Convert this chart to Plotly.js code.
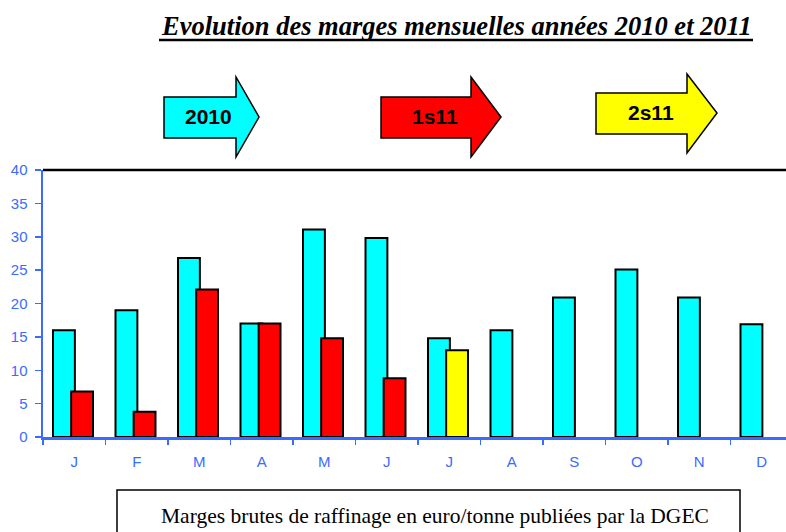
<!DOCTYPE html>
<html>
<head>
<meta charset="utf-8">
<script src="https://cdn.plot.ly/plotly-3.0.1.min.js"></script>
<style>
  html, body { margin: 0; padding: 0; background: #fff; }
  #chart { width: 786px; height: 532px; }
</style>
</head>
<body>
<div id="chart"></div>
<script>
// ---- data ----
const months = ["J1", "F", "M1", "A1", "M2", "J2", "J3", "A2", "S", "O", "N", "D"];
const monthLabels = ["J", "F", "M", "A", "M", "J", "J", "A", "S", "O", "N", "D"];
const values2010 = [16, 19, 26.8, 17, 31.1, 29.8, 14.8, 16, 20.9, 25.1, 20.9, 16.9];
const months2011 = ["J1", "F", "M1", "A1", "M2", "J2", "J3"];
const values2011 = [6.8, 3.8, 22.1, 17, 14.8, 8.8, 13];
const colors2011 = ["#FF0000", "#FF0000", "#FF0000", "#FF0000", "#FF0000", "#FF0000", "#FFFF00"];
const periodLabels = ["2010", "1s11", "2s11"];
const titleText = "Evolution des marges mensuelles années 2010 et 2011";
const sourceText = "Marges brutes de raffinage en euro/tonne publiées par la DGEC";

// ---- layout helpers (pixel -> paper) ----
const L = 43, T = 170, W = 743, H = 267;
const px = x => (x - L) / W;
const py = y => (T + H - y) / H;
function arrowPath(x0, yt, yb, xh, yht, yhb, xt, ytip) {
  return "M" + px(x0) + "," + py(yt) + " L" + px(xh) + "," + py(yt) +
    " L" + px(xh) + "," + py(yht) + " L" + px(xt) + "," + py(ytip) +
    " L" + px(xh) + "," + py(yhb) + " L" + px(xh) + "," + py(yb) +
    " L" + px(x0) + "," + py(yb) + " Z";
}
const blue = "#3A6BFF";

const traces = [
  {
    type: "bar", x: months, y: values2010,
    offset: -0.34, width: 0.35,
    marker: { color: "#00FFFF", line: { color: "#000", width: 2 } },
    hoverinfo: "y"
  },
  {
    type: "bar", x: months2011, y: values2011,
    offset: -0.05, width: 0.35,
    marker: { color: colors2011, line: { color: "#000", width: 2 } },
    hoverinfo: "y"
  }
];

const arrows = [
  { path: arrowPath(164, 97, 138, 236, 77, 157, 259, 117), fill: "#00FFFF", cx: 208, cy: 117, label: periodLabels[0] },
  { path: arrowPath(381, 97, 138, 471, 77, 157, 501, 117), fill: "#FF0000", cx: 435, cy: 117, label: periodLabels[1] },
  { path: arrowPath(596, 93, 134, 687, 74, 153, 717, 113), fill: "#FFFF00", cx: 651, cy: 113, label: periodLabels[2] }
];

const shapes = arrows.map(a => ({
  type: "path", xref: "paper", yref: "paper", path: a.path,
  fillcolor: a.fill, line: { color: "#000", width: 1.5 }, layer: "above"
}));
// top border of plot
shapes.push({ type: "line", xref: "paper", yref: "paper", x0: 0, x1: 1, y0: 1, y1: 1, line: { color: "#000", width: 2.5 } });
// title underline
shapes.push({ type: "line", xref: "paper", yref: "paper", x0: px(159), x1: px(753), y0: py(40), y1: py(40), line: { color: "#000", width: 2.5 } });
// source box
shapes.push({ type: "rect", xref: "paper", yref: "paper", x0: px(117), x1: px(740), y0: py(490), y1: py(545), line: { color: "#000", width: 1.5 }, fillcolor: "rgba(0,0,0,0)" });

const annotations = arrows.map(a => ({
  xref: "paper", yref: "paper", x: px(a.cx), y: py(a.cy), text: "<b>" + a.label + "</b>",
  showarrow: false, xanchor: "center", yanchor: "middle",
  font: { family: "Liberation Sans, Arial, sans-serif", size: 21, color: "#000" }
}));
annotations.push({
  xref: "paper", yref: "paper", x: px(456), y: py(26), text: "<b><i>" + titleText + "</i></b>",
  showarrow: false, xanchor: "center", yanchor: "middle",
  font: { family: "Liberation Serif, Times New Roman, serif", size: 26.5, color: "#000" }
});
annotations.push({
  xref: "paper", yref: "paper", x: px(435), y: py(516), text: sourceText,
  showarrow: false, xanchor: "center", yanchor: "middle",
  font: { family: "Liberation Serif, Times New Roman, serif", size: 21.5, color: "#000" }
});

const layout = {
  width: 786, height: 532,
  margin: { l: L, r: 0, t: T, b: 532 - T - H, pad: 0 },
  paper_bgcolor: "#fff", plot_bgcolor: "#fff",
  barmode: "overlay",
  showlegend: false,
  xaxis: {
    type: "category", range: [-0.5, 11.388],
    tickmode: "array", tickvals: months, ticktext: monthLabels,
    tickson: "boundaries", ticks: "outside", ticklen: 5, tickwidth: 1.5, tickcolor: blue,
    showline: true, linecolor: blue, linewidth: 2.5,
    showgrid: false, zeroline: false,
    ticklabelstandoff: 9,
    tickfont: { family: "Liberation Sans, Arial, sans-serif", size: 15, color: blue }
  },
  yaxis: {
    range: [0, 40], dtick: 5, tick0: 0,
    ticks: "outside", ticklen: 6, tickwidth: 1.5, tickcolor: blue,
    showline: true, linecolor: blue, linewidth: 2.5,
    showgrid: false, zeroline: false,
    ticklabelstandoff: 4,
    tickfont: { family: "Liberation Sans, Arial, sans-serif", size: 15, color: blue }
  },
  shapes: shapes,
  annotations: annotations
};

Plotly.newPlot("chart", traces, layout, { displayModeBar: false, staticPlot: true });
</script>
</body>
</html>
